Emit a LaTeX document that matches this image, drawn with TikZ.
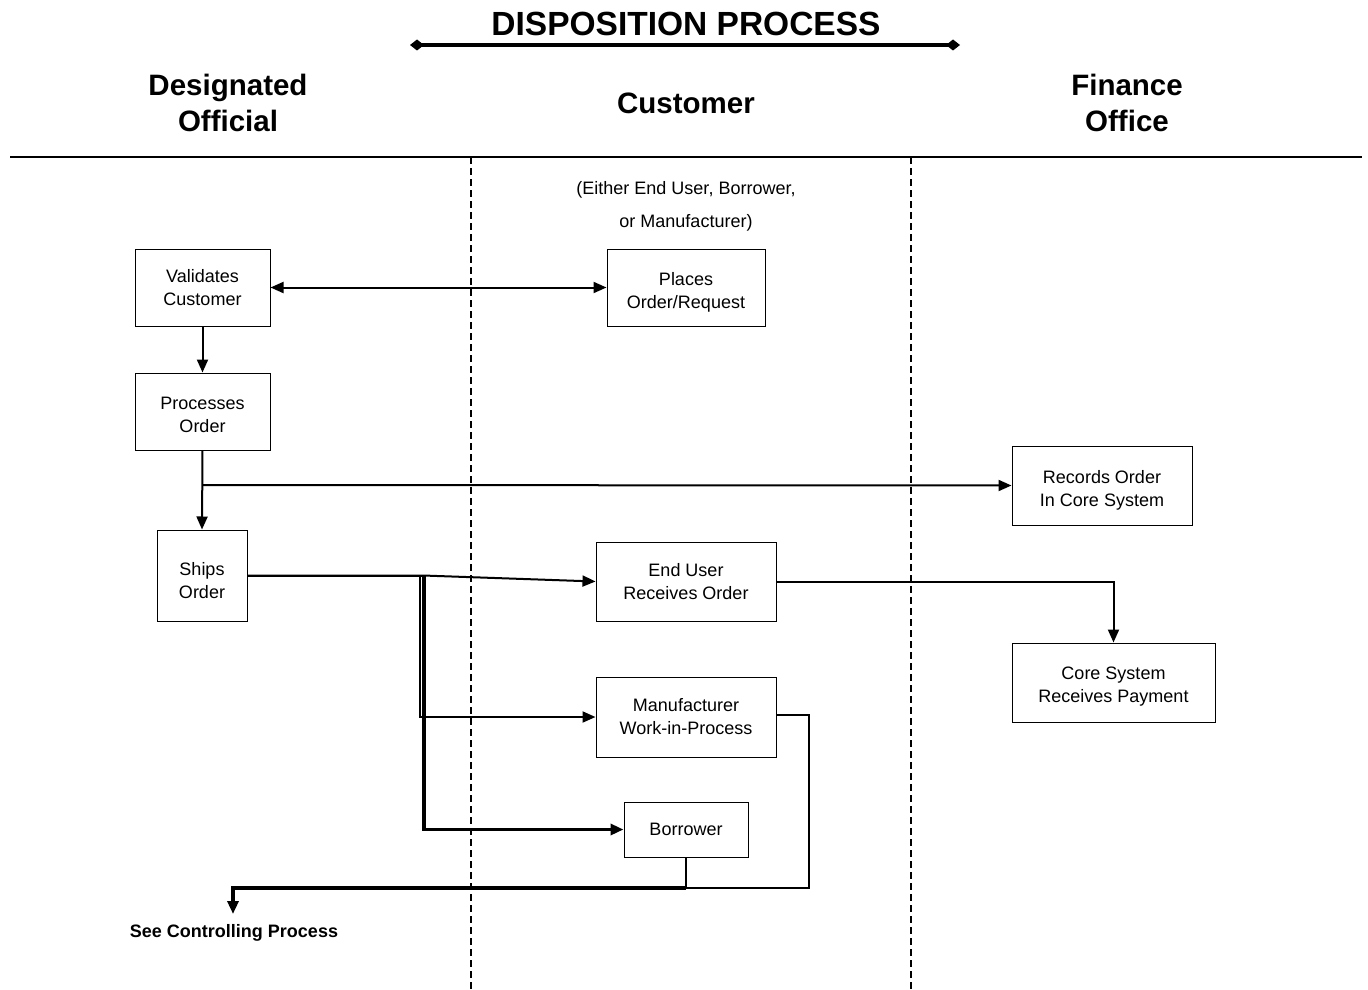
\documentclass[tikz,border=0pt]{standalone}
\usepackage{fontspec}
\setmainfont{Liberation Sans}
\usetikzlibrary{arrows.meta}
\newcommand{\topstrut}{\rule{0pt}{23pt}}
\newcommand{\midstrut}{\rule{0pt}{20pt}}
\begin{document}
\begin{tikzpicture}[x=1pt,y=-1pt,
  box/.style={draw,line width=1pt,align=center,inner sep=0pt,font=\fontsize{18}{23}\selectfont},
  conn/.style={line width=2pt},
  arr/.style={conn,-{Triangle[length=13pt,width=11pt]}},
  hdr/.style={align=center,font=\fontsize{29.5}{36}\selectfont\bfseries},
  plain/.style={align=center,font=\fontsize{18}{33}\selectfont},
  lane/.style={line width=2pt,dash pattern=on 7pt off 4pt}]
\useasboundingbox (0,0) rectangle (1368,990);
% title
\node[font=\fontsize{33.5}{40}\selectfont\bfseries] (title) at (686,24) {DISPOSITION PROCESS};
\coordinate (tl) at (410,45);
\coordinate (tr) at (960,45);
\draw[line width=4pt,{Diamond[length=14pt,width=11pt]}-{Diamond[length=14pt,width=11pt]}] (tl) -- (tr);
% headers
\node[hdr] (hdo) at (228,103) {Designated\\Official};
\node[hdr] (hcu) at (686,103) {Customer};
\node[hdr] (hfo) at (1127,103) {Finance\\Office};
\coordinate (hl) at (10,157);
\coordinate (hr) at (1362,157);
\draw[line width=2pt] (hl) -- (hr);
% lanes
\coordinate (l1t) at (471,157);
\coordinate (l1b) at (471,990);
\coordinate (l2t) at (911,157);
\coordinate (l2b) at (911,990);
\draw[lane] (l1t) -- (l1b);
\draw[lane] (l2t) -- (l2b);
\node[plain] (either) at (686,206) {(Either End User, Borrower,\\or Manufacturer)};
% boxes
\node[box,minimum width=135pt,minimum height=77pt] (val) at (202.5,287.5) {Validates\\Customer};
\node[box,minimum width=158pt,minimum height=77pt] (pla) at (686,287.5) {\topstrut Places\\Order/Request};
\node[box,minimum width=135pt,minimum height=77pt] (pro) at (202.5,411.5) {\midstrut Processes\\Order};
\node[box,minimum width=90pt,minimum height=91pt] (shi) at (202,575.5) {\topstrut Ships\\Order};
\node[box,minimum width=180pt,minimum height=79pt] (rec) at (1102,485.5) {\topstrut Records Order\\In Core System};
\node[box,minimum width=180pt,minimum height=79pt] (end) at (686,581.5) {End User\\Receives Order};
\node[box,minimum width=203pt,minimum height=79pt] (cor) at (1113.5,682.5) {\midstrut Core System\\Receives Payment};
\node[box,minimum width=180pt,minimum height=80pt] (man) at (686,717) {Manufacturer\\Work-in-Process};
\node[box,minimum width=124pt,minimum height=55pt] (bor) at (686,829.5) {Borrower};
\node[font=\fontsize{18}{22}\selectfont\bfseries] (see) at (234,933) {See Controlling Process};
% connectors
\draw[conn,{Triangle[length=13pt,width=11pt]}-{Triangle[length=13pt,width=11pt]}] (val.east) -- (pla.west);
\draw[arr] (val.south) -- (pro.north);
\draw[arr] (pro.south) -- (shi.north);
\coordinate (br) at (202,485);
\draw[arr] (br) -- (rec.west);
\coordinate (s1) at (423,575.5);
\coordinate (s2) at (420,575.5);
\coordinate (s3) at (424,575.5);
\draw[arr] (shi.east) -- (s1) -- (end.west);
\draw[arr] (shi.east) -- (s2) |- (man.west);
\draw[conn] (shi.east) -- (s3) -- ++(0,141);
\draw[line width=3.5pt,-{Triangle[length=13pt,width=11pt]}] (s3) |- (bor.west);
\draw[arr] (end.east) -| (cor.north);
\coordinate (m1) at (809,715);
\coordinate (m2) at (809,888);
\coordinate (b1) at (686,888);
\coordinate (c1) at (233,888);
\coordinate (c2) at (233,914);
\draw[conn] (man.east |- m1) -- (m1) -- (m2) -- (c1);
\draw[line width=3.5pt,-{Triangle[length=13pt,width=11pt]}] (b1) -- (c1) -- (c2);
\draw[conn] (bor.south) -- (b1);
\end{tikzpicture}
\end{document}
